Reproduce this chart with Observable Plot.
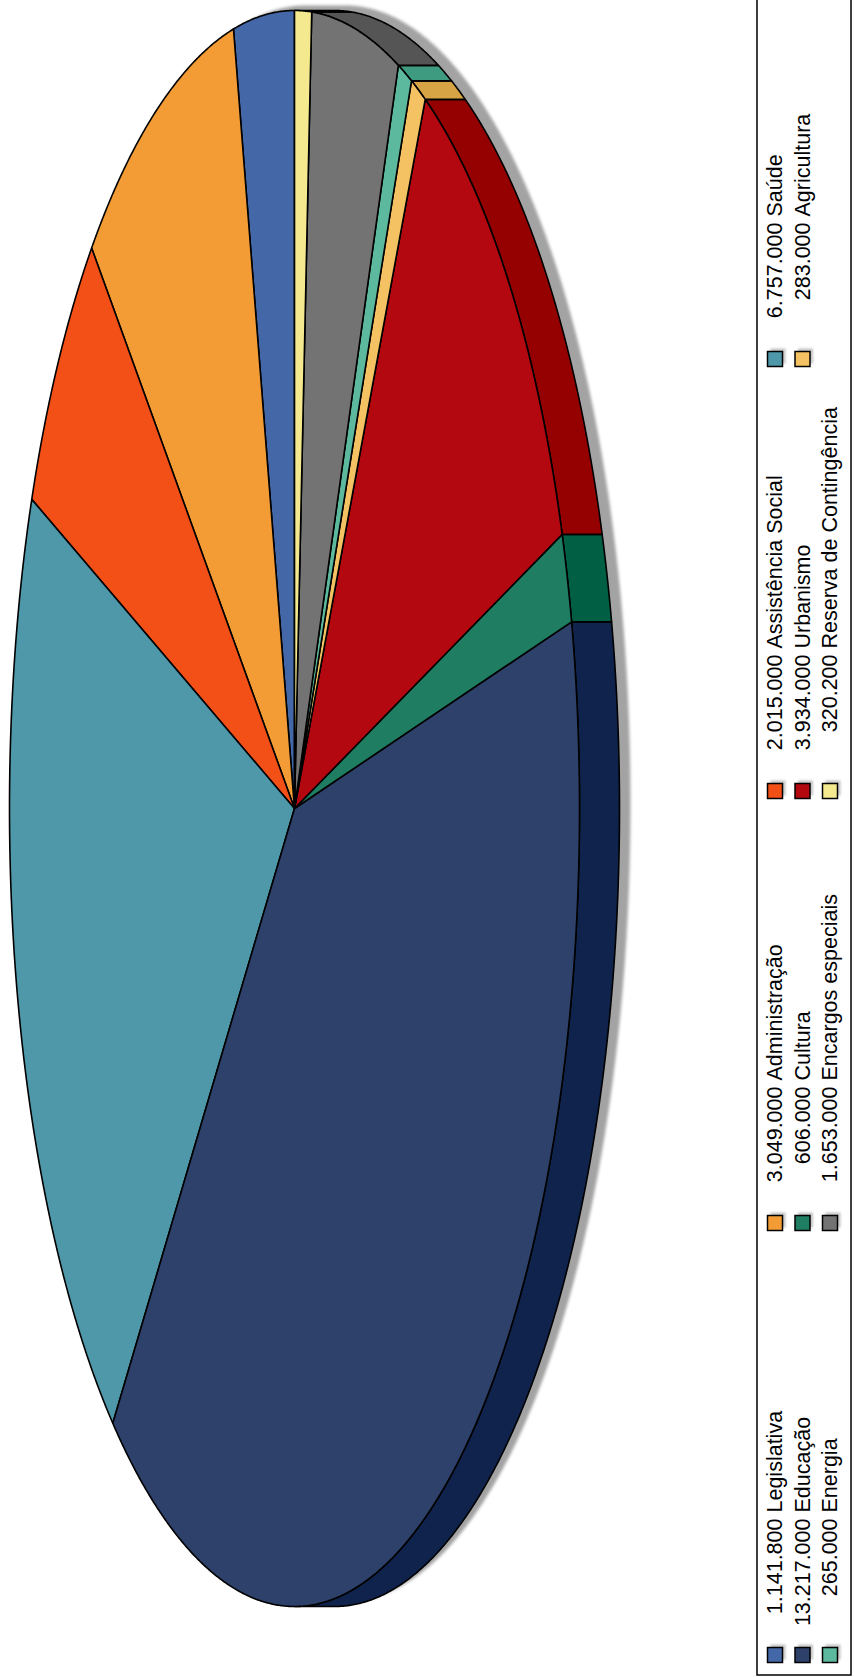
<!DOCTYPE html>
<html><head><meta charset="utf-8">
<script src="https://cdn.jsdelivr.net/npm/d3@7"></script>
<script src="https://cdn.jsdelivr.net/npm/@observablehq/plot@0.6"></script>
<style>html,body{margin:0;padding:0;background:#fff} svg{display:block}</style>
</head><body><div id="chart"></div>
<script>
// ---- data ----
const categories = ["Legislativa","Administração","Assistência Social","Saúde","Educação","Cultura","Urbanismo","Agricultura","Energia","Encargos especiais","Reserva de Contingência"];
const values = [1141800,3049000,2015000,6757000,13217000,606000,3934000,283000,265000,1653000,320200];
const palette = ["#4467a7","#f39c35","#f25016","#4e98aa","#2d416b","#1f7d62","#b3080f","#f4c262","#5cb99e","#737373","#f4e98e"];

// ---- layout ----
const W = 854, H = 1677;
const cx = 294, cy = 808, rx = 285, ry = 798, depth = 40;
const shadowDx = 11, shadowDy = -5;

const darker = c => { const r = d3.rgb(c); return d3.rgb(Math.max(0,r.r-30), Math.max(0,r.g-30), Math.max(0,r.b-30)).formatHex(); };
const total = d3.sum(values);
let acc = 0;
const slices = values.map((v, i) => {
  const s = acc / total * 2 * Math.PI; acc += v;
  const e = acc / total * 2 * Math.PI;
  return {i, name: categories[i], s, e};
});
const pt = (phi, dx = 0, dy = 0) => [cx - rx * Math.sin(phi) + dx, cy - ry * Math.cos(phi) + dy];
function arc(s, e, dx = 0, dy = 0) {
  const n = Math.max(2, Math.ceil((e - s) / (Math.PI / 720)));
  return d3.range(n + 1).map(k => pt(s + (e - s) * k / n, dx, dy));
}
const toRows = (ring, key, fill) => ring.map(([x, y]) => ({x, y, key, fill}));

const topPts = slices.flatMap(sl => toRows([[cx, cy], ...arc(sl.s, sl.e), [cx, cy]], sl.name, palette[sl.i]));
const sidePts = slices.flatMap(sl => {
  const lo = Math.max(sl.s, Math.PI), hi = Math.min(sl.e, 2 * Math.PI);
  if (hi <= lo) return [];
  const ring = [...arc(lo, hi), ...arc(lo, hi, depth).reverse()];
  ring.push(ring[0]);
  return toRows(ring, sl.name, darker(palette[sl.i]));
});
const silhouette = [...arc(0, Math.PI, shadowDx, shadowDy), ...arc(Math.PI, 2 * Math.PI, depth + shadowDx, shadowDy)];
silhouette.push(silhouette[0]);
const shadowPts = toRows(silhouette, "shadow", "#a3a3a3");

// ---- legend ----
const fmt = d3.formatLocale({decimal: ",", thousands: ".", grouping: [3], currency: ["", ""]}).format(",d");
const legend = categories.map((name, i) => ({name, value: values[i], fill: palette[i], row: Math.floor(i / 4), col: i % 4}));
const lx = d => 775 + 27.5 * d.row;
const ly = d => 1655 - 432 * d.col;
const sw = 7.5;
const box = [{x1: 757, x2: 851, y1: -2, y2: 1675}];

const chart = Plot.plot({
  width: W, height: H, margin: 0,
  x: {domain: [0, W], range: [0, W], axis: null},
  y: {domain: [0, H], range: [0, H], axis: null},
  color: {type: "identity"},
  style: {fontFamily: "'Liberation Sans', Arial, sans-serif", background: "white"},
  marks: [
    Plot.line(shadowPts, {x: "x", y: "y", z: "key", fill: "fill", stroke: "none", imageFilter: "blur(1.5px)"}),
    Plot.line(sidePts, {x: "x", y: "y", z: "key", fill: "fill", stroke: "black", strokeWidth: 1.6, strokeLinejoin: "round"}),
    Plot.line(topPts, {x: "x", y: "y", z: "key", fill: "fill", stroke: "black", strokeWidth: 1.6, strokeLinejoin: "round"}),
    Plot.rect(box, {x1: "x1", x2: "x2", y1: "y1", y2: "y2", fill: "white", stroke: "black", strokeWidth: 1.5}),
    Plot.rect(legend, {x1: d => lx(d) - sw + 3, x2: d => lx(d) + sw + 3, y1: d => ly(d) - sw - 3, y2: d => ly(d) + sw - 3, fill: "#c4c4c4", imageFilter: "blur(1px)"}),
    Plot.rect(legend, {x1: d => lx(d) - sw, x2: d => lx(d) + sw, y1: d => ly(d) - sw, y2: d => ly(d) + sw, fill: "fill", stroke: "black", strokeWidth: 1.5}),
    Plot.text(legend, {x: lx, y: d => ly(d) - 137, text: d => fmt(d.value), rotate: -90, textAnchor: "end", fontSize: 21.5, fill: "black"}),
    Plot.text(legend, {x: lx, y: d => ly(d) - 143, text: "name", rotate: -90, textAnchor: "start", fontSize: 21.5, fill: "black"})
  ]
});
document.getElementById("chart").appendChild(chart);
</script>
</body></html>
